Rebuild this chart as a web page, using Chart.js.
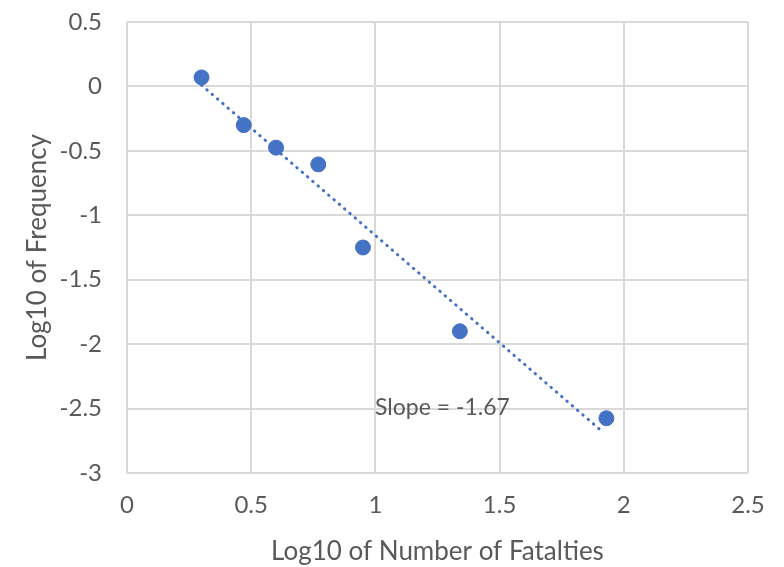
<!DOCTYPE html>
<html>
<head>
<meta charset="utf-8">
<script src="https://cdn.jsdelivr.net/npm/chart.js"></script>
<style>
  html, body { margin: 0; padding: 0; background: #fff; }
  #chart { display: block; }
</style>
</head>
<body>
<canvas id="chart" width="784" height="567"></canvas>
<script>
// log10 of fatalities vs log10 of frequency
const logFatalities = [0.30, 0.47, 0.60, 0.77, 0.95, 1.34, 1.93];
const logFrequency = [0.07, -0.30, -0.475, -0.605, -1.25, -1.90, -2.575];

// dotted trend line ends
const trendX = [0.30, 1.92];
const trendY = [0.01, -2.69];

const xTicks = [0, 0.5, 1, 1.5, 2, 2.5];
const yTicks = [0.5, 0, -0.5, -1, -1.5, -2, -2.5, -3];

const slopeText = 'Slope = -1.67';
const slopeAt = [1.27, -2.49];

const blue = '#4472C4';
const grey = '#595959';
const FONT = 'Lato, "DejaVu Sans", sans-serif';

const slopeLabel = {
  id: 'slopeLabel',
  afterDatasetsDraw(chart) {
    const { ctx, scales } = chart;
    ctx.save();
    ctx.font = '23px ' + FONT;
    ctx.fillStyle = grey;
    ctx.textAlign = 'center';
    ctx.textBaseline = 'middle';
    ctx.fillText(slopeText, scales.x.getPixelForValue(slopeAt[0]), scales.y.getPixelForValue(slopeAt[1]));
    ctx.restore();
  }
};

new Chart(document.getElementById('chart'), {
  type: 'scatter',
  data: {
    datasets: [
      {
        label: 'data',
        data: logFatalities.map((x, i) => ({ x, y: logFrequency[i] })),
        backgroundColor: blue,
        borderColor: blue,
        pointRadius: 7.5,
        pointHoverRadius: 7.5,
        order: 1
      },
      {
        label: 'trend',
        type: 'line',
        data: trendX.map((x, i) => ({ x, y: trendY[i] })),
        borderColor: blue,
        borderWidth: 3,
        borderDash: [0.5, 6.5],
        borderCapStyle: 'round',
        pointRadius: 0,
        fill: false,
        order: 2
      }
    ]
  },
  options: {
    responsive: false,
    animation: false,
    layout: { padding: { left: 22, right: 36, top: 22, bottom: 0 } },
    plugins: {
      legend: { display: false },
      tooltip: { enabled: false }
    },
    scales: {
      x: {
        type: 'linear',
        min: 0,
        max: 2.5,
        afterBuildTicks: s => { s.ticks = xTicks.map(v => ({ value: v })); },
        afterFit: s => { s.height = 94; s.paddingLeft = 0; s.paddingRight = 0; },
        grid: { color: '#d9d9d9', lineWidth: 2, drawTicks: false },
        border: { display: false },
        ticks: { padding: 18, color: grey, font: { family: FONT, size: 24 }, callback: v => String(v) },
        title: { display: true, text: 'Log10 of Number of Fatalties', color: grey, font: { family: FONT, size: 26 }, padding: { top: 0, bottom: 0 } }
      },
      y: {
        min: -3,
        max: 0.5,
        afterBuildTicks: s => { s.ticks = yTicks.map(v => ({ value: v })); },
        afterFit: s => { s.width = 105; s.paddingTop = 0; s.paddingBottom = 0; },
        grid: { color: '#d9d9d9', lineWidth: 2, drawTicks: false },
        border: { display: false },
        ticks: { padding: 25, color: grey, font: { family: FONT, size: 24 }, callback: v => String(v) },
        title: { display: true, text: 'Log10 of Frequency', color: grey, font: { family: FONT, size: 26 }, padding: { top: 0, bottom: 0 } }
      }
    }
  },
  plugins: [slopeLabel]
});
</script>
</body>
</html>
